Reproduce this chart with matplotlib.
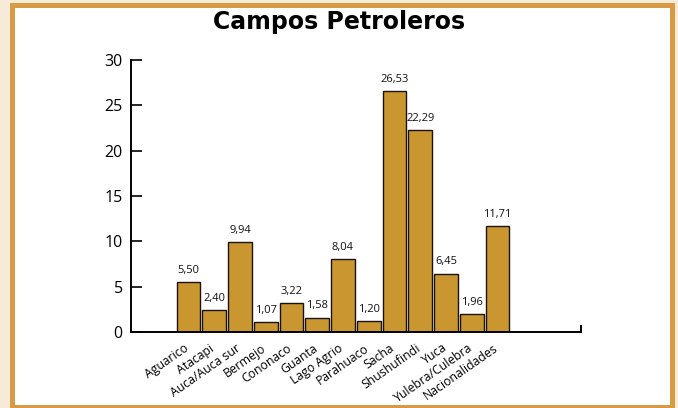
import matplotlib
matplotlib.use("Agg")
import matplotlib.pyplot as plt
from matplotlib.patches import Rectangle
from matplotlib.transforms import ScaledTranslation

categories = ["Aguarico", "Atacapi", "Auca/Auca sur", "Bermejo", "Cononaco", "Guanta",
              "Lago Agrio", "Parahuaco", "Sacha", "Shushufindi", "Yuca",
              "Yulebra/Culebra", "Nacionalidades"]
values = [5.50, 2.40, 9.94, 1.07, 3.22, 1.58, 8.04, 1.20, 26.53, 22.29, 6.45, 1.96, 11.71]
value_labels = ["5,50", "2,40", "9,94", "1,07", "3,22", "1,58", "8,04", "1,20",
                "26,53", "22,29", "6,45", "1,96", "11,71"]
yticks = [0, 5, 10, 15, 20, 25, 30]
title = "Campos Petroleros"

FONT = "Open Sans"
W, H = 678, 408
fig = plt.figure(figsize=(W / 100, H / 100), dpi=100)
fig.patch.set_facecolor("#f6ead8")

# frame
fig.patches.append(Rectangle((10 / W, -0.01), 665 / W, 405 / H + 0.01,
                             transform=fig.transFigure, facecolor="#d89b44",
                             edgecolor="none", zorder=-2))
fig.patches.append(Rectangle((15 / W, 3 / H), 655 / W, 397 / H,
                             transform=fig.transFigure, facecolor="white",
                             edgecolor="none", zorder=-1))

ax = fig.add_axes([131 / W, (H - 332) / H, 450 / W, 272 / H])
ax.set_zorder(2)
ax.set_facecolor("none")

x = list(range(len(categories)))
ax.bar(x, values, width=0.92, color="#c9962f", edgecolor="#1a1208", linewidth=1.0, zorder=2)

for xi, v, lab in zip(x, values, value_labels):
    ax.annotate(lab, (xi, v), xytext=(0, 4.5), textcoords="offset points",
                ha="center", va="bottom", fontsize=8, family=FONT, color="#111111")

ax.set_xlim(-2.23, 15.24)
ax.set_ylim(0, 30)
ax.set_yticks(yticks)
ax.set_yticklabels([str(t) for t in yticks], family=FONT, fontsize=11.5)
ax.tick_params(axis="y", direction="in", length=8, width=1.2, pad=6, colors="black")

ax.set_xticks(x)
ax.set_xticklabels(categories, rotation=35, ha="right", va="top",
                   rotation_mode="anchor", family=FONT, fontsize=8.8)
ax.tick_params(axis="x", length=0, pad=7)
shift = ScaledTranslation(-5 / 100, 0, fig.dpi_scale_trans)
for lbl in ax.get_xticklabels():
    lbl.set_transform(lbl.get_transform() + shift)

ax.spines["top"].set_visible(False)
ax.spines["right"].set_bounds(0, 0.7)
for s in ["left", "bottom", "right"]:
    ax.spines[s].set_linewidth(1.4)

fig.text(339 / W, (H - 22) / H, title, ha="center", va="center",
         family="DejaVu Sans", fontweight="bold", fontsize=17, color="black", zorder=3)

fig.savefig("out.png", dpi=100, facecolor=fig.get_facecolor())
